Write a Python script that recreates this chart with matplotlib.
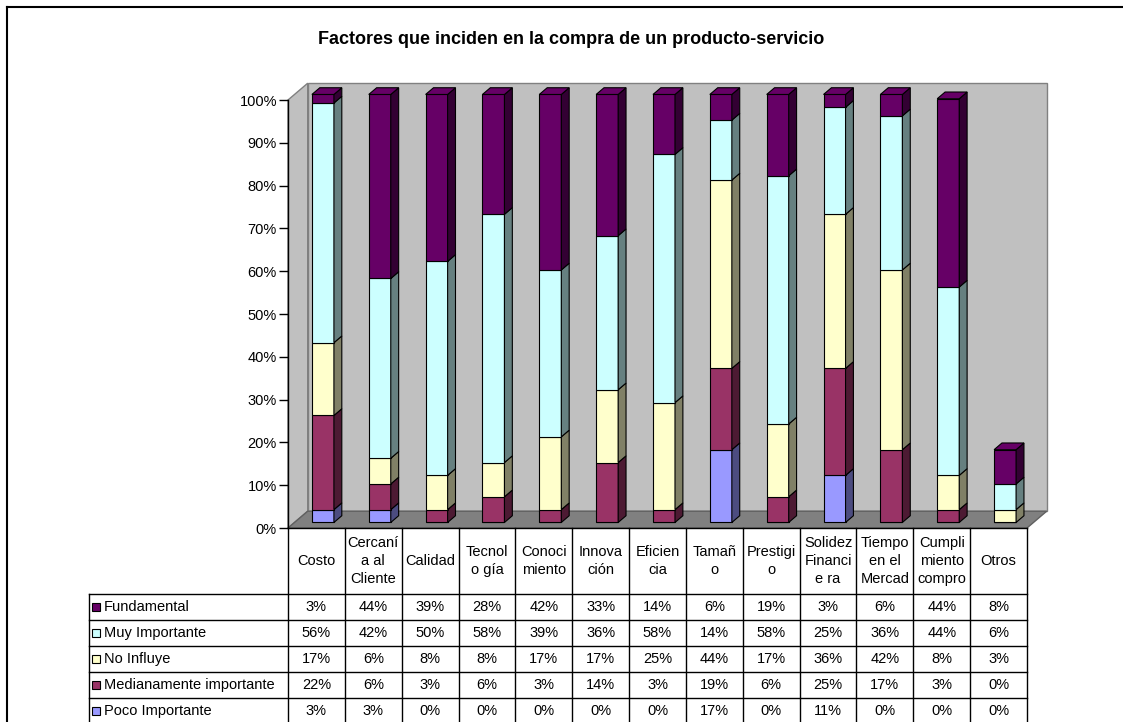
import matplotlib
matplotlib.use("Agg")
import matplotlib.pyplot as plt
from matplotlib.patches import Polygon, Rectangle

plt.rcParams['font.family'] = ['Liberation Sans', 'DejaVu Sans']

# ---- data -------------------------------------------------------------
categories = ["Costo", "Cercaní\na al\nCliente", "Calidad", "Tecnol\no gía",
              "Conoci\nmiento", "Innova\nción", "Eficien\ncia", "Tamañ\no",
              "Prestigi\no", "Solidez\nFinanci\ne ra", "Tiempo\nen el\nMercad",
              "Cumpli\nmiento\ncompro", "Otros"]

# stacking order: bottom -> top
series_names = ["Poco Importante", "Medianamente importante", "No Influye",
                "Muy Importante", "Fundamental"]
poco = [3, 3, 0, 0, 0, 0, 0, 17, 0, 11, 0, 0, 0]
medianamente = [22, 6, 3, 6, 3, 14, 3, 19, 6, 25, 17, 3, 0]
no_influye = [17, 6, 8, 8, 17, 17, 25, 44, 17, 36, 42, 8, 3]
muy_importante = [56, 42, 50, 58, 39, 36, 58, 14, 58, 25, 36, 44, 6]
fundamental = [3, 44, 39, 28, 42, 33, 14, 6, 19, 3, 6, 44, 8]

y_ticks = list(range(0, 101, 10))
y_max = 100
title = "Factores que inciden en la compra de un producto-servicio"

# ---- styling ----------------------------------------------------------
front_colors = ["#9999FF", "#993366", "#FFFFCC", "#CCFFFF", "#660066"]
side_colors = ["#4C4C80", "#4D1A33", "#808066", "#668080", "#330033"]

W, H = 1123, 722
fig = plt.figure(figsize=(W / 100, H / 100), dpi=100)

# front plane of the plot: pixels 288..1027 horizontally, 528..100 vertically
left_px, right_px, bot_px, top_px = 288, 1027, 528, 100
ax = fig.add_axes([left_px / W, (H - bot_px) / H,
                   (right_px - left_px) / W, (bot_px - top_px) / H])
n = len(categories)
ax.set_xlim(0, n)
ax.set_ylim(0, y_max)
PXX = n / (right_px - left_px)      # data units per pixel (x)
PXY = y_max / (bot_px - top_px)     # data units per pixel (y)

DX, DY = 19.7 * PXX, 16.8 * PXY      # depth of the 3-D box

# walls and floor
ax.add_patch(Polygon([(DX, DY), (n + DX, DY), (n + DX, y_max + DY), (DX, y_max + DY)],
                     closed=True, fc="#C0C0C0", ec="#808080", lw=1, zorder=1,
                     clip_on=False))
ax.add_patch(Polygon([(0, 0), (DX, DY), (DX, y_max + DY), (0, y_max)],
                     closed=True, fc="#C0C0C0", ec="#808080", lw=1, zorder=1,
                     clip_on=False))
ax.add_patch(Polygon([(0, 0), (n, 0), (n + DX, DY), (DX, DY)],
                     closed=True, fc="#808080", ec="#606060", lw=1, zorder=1.5,
                     clip_on=False))

# stacked 3-D columns (stacks are cut at the axis maximum)
f0, fd = 0.33, 0.40                  # front position and thickness (fraction of depth)
bw = 22 * PXX
ox, oy = f0 * DX, f0 * DY
bx, by = fd * DX, fd * DY
all_series = [poco, medianamente, no_influye, muy_importante, fundamental]
cum = [0.0] * n
centers = [i + 0.5 + ox for i in range(n)]
top_idx = [max([k for k in range(len(all_series)) if all_series[k][i] > 0])
           for i in range(n)]
for k, vals in enumerate(all_series):
    shown = [max(0.0, min(v, y_max - c)) for v, c in zip(vals, cum)]
    bottoms = [c + oy for c in cum]
    bars = ax.bar(centers, shown, width=bw, bottom=bottoms, color=front_colors[k],
                  edgecolor="black", linewidth=0.8, zorder=3, clip_on=False)
    for i, rect in enumerate(bars):
        v = shown[i]
        if v <= 0:
            continue
        x0 = rect.get_x()
        x1 = x0 + rect.get_width()
        y0 = rect.get_y()
        y1 = y0 + v
        ax.add_patch(Polygon([(x1, y0), (x1 + bx, y0 + by), (x1 + bx, y1 + by), (x1, y1)],
                             closed=True, fc=side_colors[k], ec="black", lw=0.8,
                             zorder=3, clip_on=False))
        if k == top_idx[i]:
            ax.add_patch(Polygon([(x0, y1), (x1, y1), (x1 + bx, y1 + by), (x0 + bx, y1 + by)],
                                 closed=True, fc=front_colors[k], ec="black", lw=0.8,
                                 zorder=3, clip_on=False))
    cum = [c + v for c, v in zip(cum, vals)]

# axes
for s in ["top", "right", "bottom"]:
    ax.spines[s].set_visible(False)
ax.spines["left"].set_color("black")
ax.spines["left"].set_linewidth(1)
ax.spines["left"].set_zorder(4)
ax.set_xticks([])
ax.set_yticks(y_ticks)
ax.set_yticklabels([f"{t}%" for t in y_ticks], fontsize=10.5)
ax.tick_params(axis="y", direction="out", length=6.5, width=1, pad=1.5)
ax.patch.set_visible(False)

# ---- data table ----------------------------------------------------------
fs = 10.5
hdr_h = 66 * PXY
row_h = 26 * PXY
leg_left = -(left_px - 89) * PXX
table_bottom = -(H - bot_px + 4) * PXY
lk = dict(color="black", lw=1, clip_on=False, zorder=5)

ax.plot([0, n], [0, 0], **lk)
for i in range(n + 1):
    ax.plot([i, i], [0, table_bottom], **lk)
ax.plot([leg_left, leg_left], [-hdr_h, table_bottom], **lk)
for r in range(5):
    yy = -hdr_h - r * row_h
    ax.plot([leg_left, n], [yy, yy], **lk)

for i, cat in enumerate(categories):
    ax.text(i + 0.5, -hdr_h / 2, cat, ha="center", va="center", fontsize=fs,
            linespacing=1.38, clip_on=False)

row_order = list(range(len(all_series)))[::-1]   # Fundamental first
ks = 8
for r, k in enumerate(row_order):
    yc = -hdr_h - (r + 0.5) * row_h
    ax.add_patch(Rectangle((leg_left + 3 * PXX, yc - ks / 2 * PXY), ks * PXX, ks * PXY,
                           fc=front_colors[k], ec="black", lw=0.8, clip_on=False,
                           zorder=5))
    ax.text(leg_left + 15 * PXX, yc, series_names[k], ha="left", va="center",
            fontsize=fs, clip_on=False)
    for i, v in enumerate(all_series[k]):
        ax.text(i + 0.5, yc, f"{v}%", ha="center", va="center", fontsize=fs,
                clip_on=False)

# title and chart border
fig.text(571 / W, 1 - 40 / H, title, ha="center", va="center", fontsize=13,
         fontweight="bold")
fig.add_artist(plt.Line2D([7 / W, 1.0], [1 - 7 / H, 1 - 7 / H], color="black",
                          lw=1.5, transform=fig.transFigure))
fig.add_artist(plt.Line2D([7 / W, 7 / W], [1 - 7 / H, 0.0], color="black",
                          lw=1.5, transform=fig.transFigure))

fig.savefig("out.png", dpi=100)
